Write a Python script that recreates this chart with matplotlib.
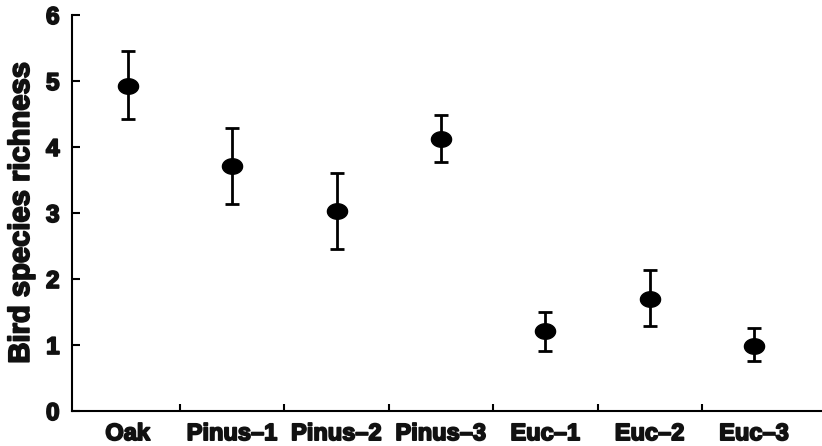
import numpy as np
import matplotlib.pyplot as plt
import matplotlib.patheffects as pe
from matplotlib.path import Path

categorias = ['Oak', 'Pinus–1', 'Pinus–2', 'Pinus–3', 'Euc–1', 'Euc–2', 'Euc–3']
media = [4.93, 3.71, 3.03, 4.12, 1.21, 1.70, 0.99]
sup = [5.45, 4.29, 3.61, 4.48, 1.50, 2.13, 1.26]
inf = [4.42, 3.14, 2.46, 3.77, 0.91, 1.28, 0.75]

x = np.arange(len(categorias))
err = [np.array(media) - np.array(inf), np.array(sup) - np.array(media)]

# marcador eliptico
t = np.linspace(0, 2*np.pi, 60)
elipse = Path(np.column_stack([1.3*np.cos(t), np.sin(t)]), closed=True)

plt.rcParams['font.family'] = ['Liberation Sans', 'DejaVu Sans']
plt.rcParams['font.weight'] = 'bold'
grueso = [pe.withStroke(linewidth=1.3, foreground='#111111')]

fig = plt.figure(figsize=(8.22, 4.46), dpi=100)
ax = fig.add_axes([0.0876, 0.0785, 0.9124, 0.888])

ax.errorbar(x, media, yerr=err, fmt='none', ecolor='black',
            elinewidth=2.0, capsize=4.7, capthick=2.0)
ax.plot(x, media, linestyle='none', marker=elipse, markersize=14.5,
        color='black')

ax.set_xlim(-0.534, 6.65)
ax.set_ylim(0, 6)
ax.set_yticks(range(0, 7))

ax.set_xticks(x)
ax.set_xticklabels(categorias, fontsize=17, fontweight='bold')
ax.set_xticks(x[:-1] + 0.5, minor=True)
ax.tick_params(axis='x', which='major', length=0, pad=8)
ax.tick_params(axis='x', which='minor', direction='in', length=5, width=1.5)
ax.tick_params(axis='y', direction='in', length=6, width=1.5,
               labelsize=17.5, pad=9)
for lab in ax.get_yticklabels() + ax.get_xticklabels():
    lab.set_fontweight('bold')
    lab.set_color('#111111')
    lab.set_path_effects(grueso)

ax.set_ylabel('Bird species richness', fontsize=21, fontweight='bold',
              labelpad=8, color='#111111', path_effects=grueso)

for s in ['top', 'right']:
    ax.spines[s].set_visible(False)
for s in ['left', 'bottom']:
    ax.spines[s].set_linewidth(1.5)

fig.savefig('out.png', dpi=100)
